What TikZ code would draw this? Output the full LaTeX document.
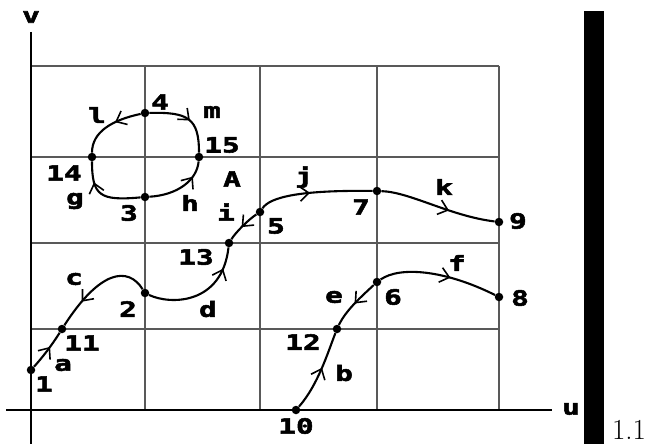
\documentclass[tikz,border=0pt]{standalone}
\usepackage{fontspec}
\usepackage{tikz}
\usetikzlibrary{arrows.meta,decorations.markings}
\newfontfamily\pixfont[FakeStretch=1.4,FakeBold=2.5]{DejaVu Sans Mono}

\tikzset{
  lbl/.style={font=\pixfont\bfseries\fontsize{21}{21}\selectfont, inner sep=0pt},
  dot/.style={circle, fill=black, inner sep=0pt, minimum size=8.5pt},
  gridline/.style={black!65, line width=1.3pt},
  axis/.style={black, line width=2.2pt},
  curve/.style={black, line width=2.1pt},
  midarr/.style={postaction={decorate, decoration={markings,
    mark=at position #1 with {\arrow{Straight Barb[length=9pt,width=15pt,line width=1.6pt]}}}}}
}

\begin{document}
\begin{tikzpicture}[x=1pt, y=-1pt]
\useasboundingbox (0,0) rectangle (653,444);

% grid
\foreach \gx in {145,260,377,499} \draw[gridline] (\gx,66) -- (\gx,410);
\foreach \gy in {66,157,243,329} \draw[gridline] (31,\gy) -- (499,\gy);

% axes
\draw[axis] (31,32) -- (31,444);
\draw[axis] (6,410) -- (552,410);
\node[lbl] (v) at (31,17) {v};
\node[lbl] (u) at (571,409) {u};

% points
\node[dot] (p1) at (31,370) {};
\node[dot] (p2) at (145,293) {};
\node[dot] (p3) at (145,197) {};
\node[dot] (p4) at (145,113) {};
\node[dot] (p5) at (260,212) {};
\node[dot] (p6) at (377,282) {};
\node[dot] (p7) at (377,191) {};
\node[dot] (p8) at (499,297) {};
\node[dot] (p9) at (499,222) {};
\node[dot] (p10) at (296,410) {};
\node[dot] (p11) at (62,329) {};
\node[dot] (p12) at (337,329) {};
\node[dot] (p13) at (229,243) {};
\node[dot] (p14) at (92,157) {};
\node[dot] (p15) at (199,157) {};

% point labels
\node[lbl] (t1) at (44,384) {1};
\node[lbl] (t2) at (128,309) {2};
\node[lbl] (t3) at (129,213) {3};
\node[lbl] (t4) at (160,102) {4};
\node[lbl] (t5) at (276,226) {5};
\node[lbl] (t6) at (393,297) {6};
\node[lbl] (t7) at (361,207) {7};
\node[lbl] (t8) at (520,298) {8};
\node[lbl] (t9) at (518,221) {9};
\node[lbl] (t10) at (296,426) {10};
\node[lbl] (t11) at (82,343) {11};
\node[lbl] (t12) at (303,342) {12};
\node[lbl] (t13) at (196,257) {13};
\node[lbl] (t14) at (64,173) {14};
\node[lbl] (t15) at (222,145) {15};
\node[lbl] (tA) at (232,179) {A};

% lower curve
\draw[curve, midarr=0.6] (p1) .. controls (42,358) and (52,345) .. (p11);
\draw[curve, midarr=0.72] (p2) .. controls (128,266) and (100,270) .. (p11);
\draw[curve, midarr=0.8] (p2) .. controls (170,305) and (222,305) .. (p13);
\draw[curve, midarr=0.55] (p5) .. controls (248,220) and (236,232) .. (p13);
\draw[curve, midarr=0.45] (p5) .. controls (270,197) and (300,190) .. (p7);
\draw[curve, midarr=0.6] (p7) .. controls (410,192) and (450,216) .. (p9);
\node[lbl] (ta) at (63,365) {a};
\node[lbl] (tc) at (74,279) {c};
\node[lbl] (td) at (208,309) {d};
\node[lbl] (ti) at (226,212) {i};
\node[lbl] (tj) at (304,177) {j};
\node[lbl] (tk) at (444,187) {k};

% right curve
\draw[curve, midarr=0.55] (p10) .. controls (318,385) and (328,352) .. (p12);
\draw[curve, midarr=0.5] (p6) .. controls (362,296) and (346,310) .. (p12);
\draw[curve, midarr=0.6] (p6) .. controls (400,266) and (445,270) .. (p8);
\node[lbl] (tb) at (344,373) {b};
\node[lbl] (te) at (334,297) {e};
\node[lbl] (tf) at (457,263) {f};

% loop
\draw[curve, midarr=0.55] (p4) .. controls (188,112) and (199,118) .. (p15);
\draw[curve, midarr=0.75] (p3) .. controls (178,195) and (197,180) .. (p15);
\draw[curve, midarr=0.72] (p3) .. controls (100,201) and (92,196) .. (p14);
\draw[curve, midarr=0.4] (p4) .. controls (112,120) and (92,132) .. (p14);
\node[lbl] (tg) at (75,201) {g};
\node[lbl] (th) at (190,203) {h};
\node[lbl] (tl) at (97,115) {l};
\node[lbl] (tm) at (212,112) {m};

% bar and number
\fill (584,11) rectangle (604,444);
\node[font=\fontsize{29}{29}\selectfont, inner sep=0pt] (num) at (629,430) {1.1};
\end{tikzpicture}
\end{document}
